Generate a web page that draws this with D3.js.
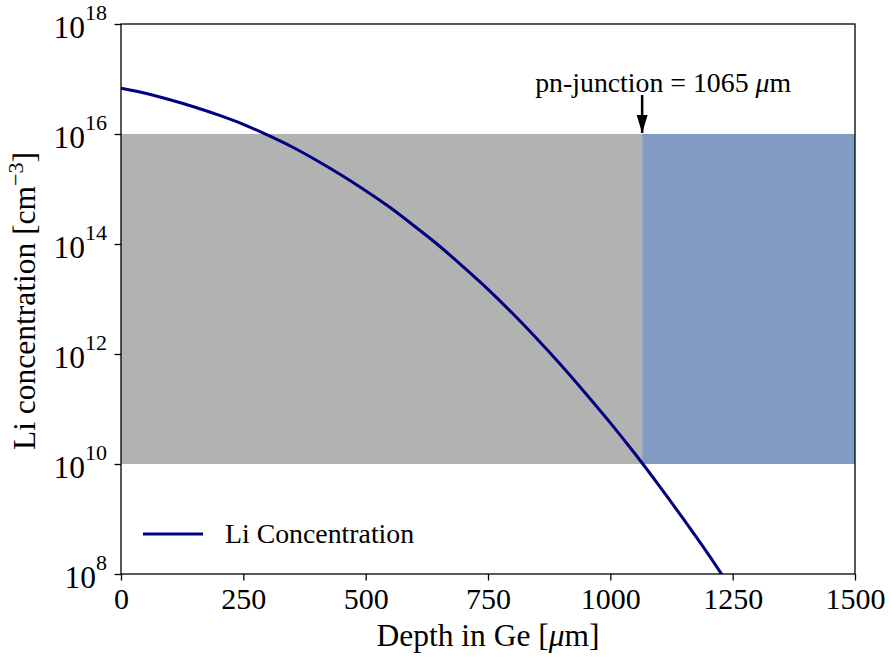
<!DOCTYPE html>
<html>
<head>
<meta charset="utf-8">
<script src="https://cdn.jsdelivr.net/npm/d3@7"></script>
<style>
  body { margin: 0; background: #fff; overflow: hidden; }
  svg { display: block; }
  text { font-family: "Liberation Serif", "DejaVu Serif", serif; fill: #000; }
</style>
</head>
<body>
<div id="chart"></div>
<script>
// depth in Ge (um) and Li concentration (cm^-3)
const depth = [0, 50, 100, 150, 200, 250, 300, 350, 400, 450, 500, 550, 600,
  650, 700, 750, 800, 850, 900, 950, 1000, 1050, 1100, 1150, 1200, 1250];
const liConc = [6.8e16, 5.5e16, 4.2e16, 3.1e16, 2.2e16, 1.5e16, 9.5e15, 5.8e15,
  3.3e15, 1.8e15, 9.3e14, 4.6e14, 2.1e14, 9.3e13, 3.8e13, 1.5e13, 5.5e12,
  1.9e12, 6.2e11, 1.9e11, 5.6e10, 1.55e10, 4.0e9, 9.8e8, 2.3e8, 4.9e7];

const junction = 1065;
const bandLow = 1e10, bandHigh = 1e16;
const xTicks = [0, 250, 500, 750, 1000, 1250, 1500];
const yExps = [8, 10, 12, 14, 16, 18];

const width = 891, height = 657;
const margin = { top: 24, right: 36, bottom: 83, left: 121 };
const innerWidth = width - margin.left - margin.right;
const innerHeight = height - margin.top - margin.bottom;

const xScale = d3.scaleLinear().domain([0, 1500]).range([0, innerWidth]);
const yScale = d3.scaleLog().domain([1e8, 1e18]).range([innerHeight, 0]);

const svg = d3.select("#chart")
  .append("svg")
  .attr("width", width)
  .attr("height", height);

const defs = svg.append("defs");
defs.append("clipPath")
  .attr("id", "clip")
  .append("rect")
  .attr("width", innerWidth)
  .attr("height", innerHeight);

const innerChart = svg.append("g")
  .attr("transform", `translate(${margin.left},${margin.top})`);

// shaded regions
innerChart.append("rect")
  .attr("x", xScale(0))
  .attr("y", yScale(bandHigh))
  .attr("width", xScale(junction) - xScale(0))
  .attr("height", yScale(bandLow) - yScale(bandHigh))
  .attr("fill", "#b2b2b2");

innerChart.append("rect")
  .attr("x", xScale(junction))
  .attr("y", yScale(bandHigh))
  .attr("width", xScale(1500) - xScale(junction))
  .attr("height", yScale(bandLow) - yScale(bandHigh))
  .attr("fill", "#819bc2");

// curve
const line = d3.line()
  .x((d, i) => xScale(depth[i]))
  .y(d => yScale(d))
  .curve(d3.curveMonotoneX);

innerChart.append("path")
  .datum(liConc)
  .attr("clip-path", "url(#clip)")
  .attr("fill", "none")
  .attr("stroke", "#000080")
  .attr("stroke-width", 3)
  .attr("d", line);

// frame
innerChart.append("rect")
  .attr("width", innerWidth)
  .attr("height", innerHeight)
  .attr("fill", "none")
  .attr("stroke", "#000")
  .attr("stroke-width", 1.3);

// x axis
const bottomAxisG = innerChart.append("g")
  .attr("transform", `translate(0,${innerHeight})`)
  .call(d3.axisBottom(xScale).tickValues(xTicks).tickSize(6.5).tickPadding(7).tickFormat(d3.format("d")));
bottomAxisG.select(".domain").remove();
bottomAxisG.selectAll("line").attr("stroke", "#000").attr("stroke-width", 1.3);
bottomAxisG.selectAll("text")
  .attr("font-size", 30)
  .attr("font-family", "Liberation Serif")
  .attr("fill", "#000");

// y axis with 10^n labels
const leftAxisG = innerChart.append("g")
  .call(d3.axisLeft(yScale).tickValues(yExps.map(e => Math.pow(10, e))).tickSize(6.5));
leftAxisG.select(".domain").remove();
leftAxisG.selectAll("text").remove();
leftAxisG.selectAll("line").attr("stroke", "#000").attr("stroke-width", 1.3);

yExps.forEach(e => {
  const t = innerChart.append("text")
    .attr("x", -14)
    .attr("y", yScale(Math.pow(10, e)) + 14)
    .attr("text-anchor", "end")
    .attr("font-size", 31.5);
  t.append("tspan").text("10");
  t.append("tspan").attr("dy", -18.5).attr("font-size", 22).text(String(e));
});

// axis labels
const xl = svg.append("text")
  .attr("x", margin.left + innerWidth / 2)
  .attr("y", 646)
  .attr("text-anchor", "middle")
  .attr("font-size", 31.5);
xl.append("tspan").text("Depth in Ge [");
xl.append("tspan").attr("font-style", "italic").text("\u03bc");
xl.append("tspan").text("m]");

const yl = svg.append("text")
  .attr("transform", `translate(35,${margin.top + innerHeight / 2 + 2}) rotate(-90)`)
  .attr("text-anchor", "middle")
  .attr("font-size", 31.5);
yl.append("tspan").text("Li concentration [cm");
yl.append("tspan").attr("dy", -12).attr("font-size", 22).text("\u22123");
yl.append("tspan").attr("dy", 12).text("]");

// junction annotation
const jx = xScale(junction);
defs.append("marker")
  .attr("id", "head")
  .attr("viewBox", "0 0 18 12")
  .attr("refX", 18).attr("refY", 6)
  .attr("markerWidth", 18).attr("markerHeight", 12)
  .attr("markerUnits", "userSpaceOnUse")
  .attr("orient", "auto")
  .append("path")
  .attr("d", "M0,0.5 L18,6 L0,11.5 Z")
  .attr("fill", "#000");

innerChart.append("line")
  .attr("x1", jx).attr("x2", jx)
  .attr("y1", 71).attr("y2", yScale(bandHigh) - 1)
  .attr("stroke", "#000")
  .attr("stroke-width", 2.5)
  .attr("marker-end", "url(#head)");

const ann = innerChart.append("text")
  .attr("x", jx + 21)
  .attr("y", 68)
  .attr("text-anchor", "middle")
  .attr("font-size", 27.8);
ann.append("tspan").text(`pn-junction = ${junction} `);
ann.append("tspan").attr("font-style", "italic").text("\u03bc");
ann.append("tspan").text("m");

// legend
const legend = innerChart.append("g")
  .attr("transform", `translate(22,${innerHeight - 40})`);
legend.append("line")
  .attr("x1", 0).attr("x2", 60)
  .attr("stroke", "#000080")
  .attr("stroke-width", 3);
legend.append("text")
  .attr("x", 82)
  .attr("y", 9)
  .attr("font-size", 27.8)
  .text("Li Concentration");
</script>
</body>
</html>
